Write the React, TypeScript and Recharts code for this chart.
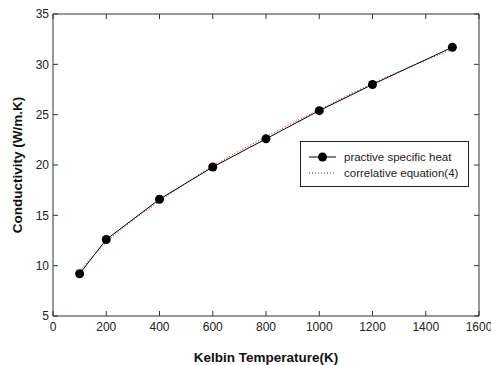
import React from 'react';
import { LineChart, Line, XAxis, YAxis } from 'recharts';

const temps = [100, 200, 400, 600, 800, 1000, 1200, 1500];
const practiveHeat = [9.2, 12.6, 16.6, 19.8, 22.6, 25.4, 28.0, 31.7];
const correlativeEq = [9.5, 12.3, 16.4, 19.9, 22.8, 25.5, 28.1, 31.5];
const xTicks = [0, 200, 400, 600, 800, 1000, 1200, 1400, 1600];
const yTicks = [5, 10, 15, 20, 25, 30, 35];

const data = temps.map((t, i) => ({ t, practive: practiveHeat[i], corr: correlativeEq[i] }));

const font = '"Liberation Sans", Arial, sans-serif';
const axisColor = '#333';

const LegendBox = () => (
  <div style={{ position: 'absolute', left: 300, top: 141, border: '1px solid #222', width: 169, height: 46, fontFamily: font, fontSize: 11.5, color: '#222', boxSizing: 'border-box', background: '#fff' }}>
    <div style={{ display: 'flex', alignItems: 'center', height: 16, marginTop: 7 }}>
      <svg width={36} height={12} style={{ marginLeft: 7 }}>
        <line x1={1} y1={6} x2={28} y2={6} stroke="#000" strokeWidth={1} />
        <circle cx={14.5} cy={6} r={4.5} fill="#000" />
      </svg>
      <span>practive specific heat</span>
    </div>
    <div style={{ display: 'flex', alignItems: 'center', height: 16 }}>
      <svg width={36} height={12} style={{ marginLeft: 7 }}>
        <line x1={1} y1={6} x2={28} y2={6} stroke="#e00" strokeWidth={1} strokeDasharray="1 2" />
      </svg>
      <span>correlative equation(4)</span>
    </div>
  </div>
);

export default function App() {
  return (
    <div style={{ position: 'absolute', left: 0, top: 0, width: 491, height: 365, background: '#fff' }}>
      <LineChart width={491} height={365} data={data} margin={{ top: 13, right: 11, left: 0, bottom: 0 }}>
        <XAxis
          dataKey="t"
          type="number"
          domain={[0, 1600]}
          ticks={xTicks}
          height={49}
          tickSize={-5}
          tickMargin={11}
          stroke={axisColor}
          tick={{ fill: '#222', fontSize: 12, fontFamily: font }}
          label={{ value: 'Kelbin Temperature(K)', position: 'insideBottom', offset: 3, fill: '#111', fontSize: 13.5, fontWeight: 'bold', fontFamily: font }}
        />
        <XAxis
          xAxisId="top"
          orientation="top"
          dataKey="t"
          type="number"
          domain={[0, 1600]}
          ticks={xTicks}
          height={1}
          tickSize={-5}
          tickMargin={0}
          stroke={axisColor}
          tickFormatter={() => ''}
        />
        <YAxis
          type="number"
          domain={[5, 35]}
          ticks={yTicks}
          width={53}
          tickSize={-5}
          tickMargin={9}
          stroke={axisColor}
          tick={{ fill: '#222', fontSize: 12, fontFamily: font }}
          label={{ value: 'Conductivity (W/m.K)', angle: -90, position: 'insideLeft', offset: 17, style: { textAnchor: 'middle' }, fill: '#111', fontSize: 13.5, fontWeight: 'bold', fontFamily: font }}
        />
        <YAxis
          yAxisId="right"
          orientation="right"
          type="number"
          domain={[5, 35]}
          ticks={yTicks}
          width={1}
          tickSize={-5}
          tickMargin={0}
          stroke={axisColor}
          tickFormatter={() => ''}
        />
        <Line
          dataKey="corr"
          xAxisId="top"
          yAxisId="right"
          type="monotone"
          stroke="#e00"
          strokeWidth={1}
          strokeDasharray="1 2"
          dot={false}
          activeDot={false}
          isAnimationActive={false}
        />
        <Line
          dataKey="practive"
          stroke="#000"
          strokeWidth={1}
          dot={{ r: 4.5, fill: '#000', stroke: '#000', strokeWidth: 0 }}
          activeDot={false}
          isAnimationActive={false}
        />
      </LineChart>
      <LegendBox />
    </div>
  );
}
